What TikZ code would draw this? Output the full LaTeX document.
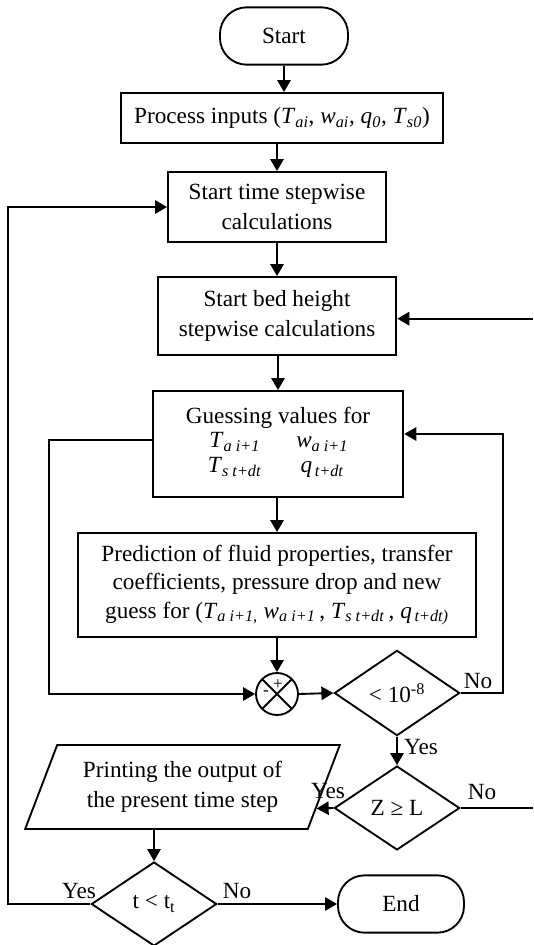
\documentclass[tikz,border=0pt]{standalone}
\usepackage{fontspec}
\setmainfont{Liberation Serif}
\usetikzlibrary{shapes.geometric,arrows.meta,calc}
\newcommand\vsub[2]{\textit{#1}\textsubscript{\textit{#2}}}
\begin{document}
\begin{tikzpicture}[x=0.75pt,y=-0.75pt,
  every node/.style={font=\fontsize{17.4}{22.5}\selectfont},
  box/.style={draw,line width=1.4pt,rectangle,align=center,inner sep=2pt},
  term/.style={box,rounded corners=20pt},
  dec/.style={draw,line width=1.4pt,diamond,inner sep=0pt,align=center},
  arr/.style={line width=1.4pt,-{Triangle[length=9pt,width=10pt]}},
  ln/.style={line width=1.4pt},
  lbl/.style={inner sep=0pt}]
\useasboundingbox (0,0) rectangle (533,945);

\node[term,minimum width=96pt,minimum height=43pt] (start) at (284,36) {Start};
\node[box,minimum width=242pt,minimum height=37.5pt] (proc) at (282,118)
  {Process inputs (\vsub{T}{ai}, \vsub{w}{ai}, \vsub{q}{0}, \vsub{T}{s0})};
\node[box,minimum width=163.5pt,minimum height=52.5pt] (st) at (277,207)
  {Start time stepwise\\calculations};
\node[box,minimum width=179pt,minimum height=58.5pt] (bed) at (277,316)
  {Start bed height\\stepwise calculations};
\node[box,minimum width=188pt,minimum height=79.5pt,font=\fontsize{17.4}{21}\selectfont] (guess) at (278,444)
  {Guessing values for\\[-1pt]
   \begin{tabular}{@{}c@{\hspace{26pt}}c@{}}
   \vsub{T}{a i+1} & \vsub{w}{a i+1}\\[-2pt]
   \vsub{T}{s t+dt} & \textit{q}\textsubscript{\textit{\,t+dt}}
   \end{tabular}};
\node[box,minimum width=298pt,minimum height=78pt,font=\fontsize{17.4}{21.5}\selectfont] (pred) at (277,585)
  {Prediction of fluid properties, transfer\\
   coefficients, pressure drop and new\\
   guess for (\vsub{T}{a i+1,} \vsub{w}{a i+1}\,, \vsub{T}{s t+dt}\,, \textit{q}\textsubscript{\textit{\,t+dt)}}};
\node[circle,draw,line width=1.4pt,minimum size=31.5pt,inner sep=0pt,
  path picture={\draw[line width=1.4pt]
    (path picture bounding box.north west) -- (path picture bounding box.south east)
    (path picture bounding box.north east) -- (path picture bounding box.south west);}]
  (sum) at (277,694) {};
\node[lbl,font=\fontsize{13}{13}\selectfont] (plus) at (278,685) {+};
\node[lbl,font=\fontsize{13}{13}\selectfont] (minus) at (266,693) {-};
\node[dec,minimum width=94pt,minimum height=64pt] (d1) at (397,693) {< 10\textsuperscript{-8}};
\node[dec,minimum width=94pt,minimum height=63pt] (d2) at (397,808) {Z ≥ L};
\node[draw,line width=1.4pt,trapezium,trapezium left angle=58,trapezium right angle=122,
  trapezium stretches body,minimum width=236pt,minimum height=63pt,inner sep=0pt,align=center]
  (para) at (182.5,787) {Printing the output of\\the present time step};
\node[dec,minimum width=94pt,minimum height=63pt] (d3) at (154,904) {t < t\textsubscript{t}};
\node[term,minimum width=94.5pt,minimum height=43pt] (end) at (401,904) {End};

\coordinate (L) at (8,0);
\coordinate (IL) at (49,0);
\coordinate (R) at (503,0);
\coordinate (RE) at (533,0);
\coordinate (pin) at ($(para.bottom right corner)!0.25!(para.top right corner)$);

\draw[arr] (start.south) -- (start.south |- proc.north);
\draw[arr] (st.north |- proc.south) -- (st.north);
\draw[arr] (st.south) -- (bed.north);
\draw[arr] (bed.south -| guess.north) -- (guess.north);
\draw[arr] (guess.south -| pred.north) -- (pred.north);
\draw[arr] (pred.south -| sum.north) -- (sum.north);
\draw[arr] (sum.east) -- (d1.west);
\draw[arr] (d1.south) -- (d2.north);
\draw[arr] (d2.west) -- (pin);
\draw[arr] (para.south -| d3.north) -- (d3.north);
\draw[arr] (d3.east) -- (end.west);
\draw[arr] ([yshift=3pt]guess.west) -- ([yshift=3pt]guess.west -| IL) |- (sum.west);
\draw[arr] (d1.east) -- (d1.east -| R) |- ([yshift=7.5pt]guess.east);
\draw[arr] (d3.west) -- (d3.west -| L) |- (st.west);
\draw[ln] (d2.east) -- (d2.east -| RE);
\draw[arr] ([yshift=-2pt]bed.east -| RE) -- ([yshift=-2pt]bed.east);

\node[lbl] (no1) at (478,681) {No};
\node[lbl] (yes1) at (421,747) {Yes};
\node[lbl] (yes2) at (328,791) {Yes};
\node[lbl] (no2) at (482,792) {No};
\node[lbl] (yes3) at (79,891) {Yes};
\node[lbl] (no3) at (237,891) {No};
\end{tikzpicture}
\end{document}
